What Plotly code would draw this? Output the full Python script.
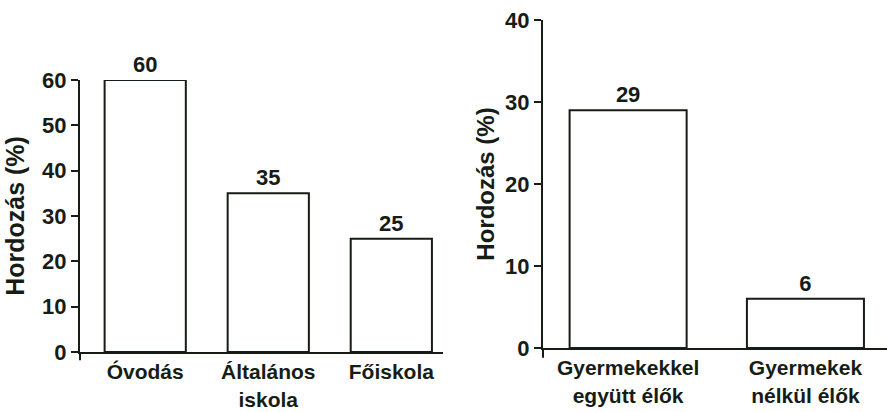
import plotly.graph_objects as go

# Carriage rate by institution type
school_categories = ["Óvodás", "Általános<br>iskola", "Főiskola"]
school_values = [60, 35, 25]

# Carriage rate by household type
household_categories = ["Gyermekekkel<br>együtt élők", "Gyermekek<br>nélkül élők"]
household_values = [29, 6]

y_title = "Hordozás (%)"
left_ticks = [0, 10, 20, 30, 40, 50, 60]
right_ticks = [0, 10, 20, 30, 40]

INK = "#161c16"
FONT = "Arial, Liberation Sans, Helvetica, sans-serif"

fig = go.Figure()

bar_style = dict(
    marker=dict(color="white", line=dict(color=INK, width=2)),
    textposition="outside",
    textfont=dict(family=FONT, size=22, color=INK, weight="bold"),
    cliponaxis=False,
    width=0.66,
    showlegend=False,
    hoverinfo="x+y",
)

fig.add_trace(go.Bar(
    x=list(range(len(school_categories))), y=school_values,
    text=[str(v) for v in school_values],
    xaxis="x", yaxis="y", **bar_style,
))
fig.add_trace(go.Bar(
    x=list(range(len(household_categories))), y=household_values,
    text=[str(v) for v in household_values],
    xaxis="x2", yaxis="y2", **bar_style,
))

tick_font = dict(family=FONT, size=22, color=INK, weight="bold")

x_common = dict(
    showline=True, linecolor=INK, linewidth=2,
    ticks="", showgrid=False, zeroline=False,
    tickmode="array",
    tickfont=dict(family=FONT, size=21, color=INK, weight="bold"),
    ticklabelstandoff=0,
    automargin=False,
    fixedrange=True,
)
y_common = dict(
    showline=True, linecolor=INK, linewidth=2,
    ticks="outside", ticklen=7, tickwidth=2, tickcolor=INK,
    showgrid=False, zeroline=False,
    tickfont=tick_font,
    automargin=False,
    fixedrange=True,
)

fig.update_layout(
    width=887, height=412,
    margin=dict(l=0, r=0, t=0, b=0),
    paper_bgcolor="white", plot_bgcolor="white",
    xaxis=dict(
        domain=[80 / 887, 443 / 887], range=[-0.53, 2.42],
        tickvals=list(range(len(school_categories))), ticktext=school_categories,
        anchor="y", **x_common,
    ),
    yaxis=dict(
        domain=[60 / 412, 332 / 412], range=[0, 60],
        tickvals=left_ticks, anchor="x",
        title=dict(text=y_title, standoff=10,
                   font=dict(family=FONT, size=25, color=INK, weight="bold")),
        **y_common,
    ),
    xaxis2=dict(
        domain=[543 / 887, 1.0], range=[-0.48, 1.46],
        tickvals=list(range(len(household_categories))), ticktext=household_categories,
        anchor="y2", **x_common,
    ),
    yaxis2=dict(
        domain=[64 / 412, 392 / 412], range=[0, 40],
        tickvals=right_ticks, anchor="x2",
        title=dict(text=y_title, standoff=4,
                   font=dict(family=FONT, size=24, color=INK, weight="bold")),
        **y_common,
    ),
)

# Small axis spurs below and left of each origin
for xr, yr in (("x", "y"), ("x2", "y2")):
    fig.add_shape(type="line", xref=f"{xr} domain", yref=f"{yr} domain",
                  x0=0, x1=0, y0=0, y1=-0.03, line=dict(color=INK, width=2))
    fig.add_shape(type="line", xref=f"{xr} domain", yref=f"{yr} domain",
                  x0=-0.012, x1=0, y0=0, y1=0, line=dict(color=INK, width=2))

fig.write_html("out.html")
